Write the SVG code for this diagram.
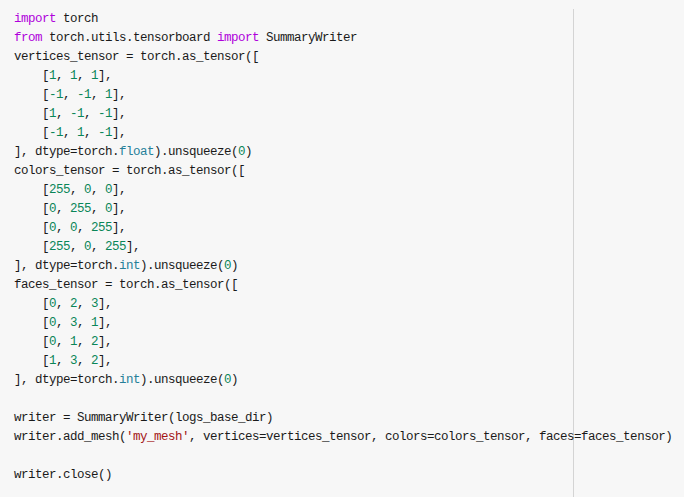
<svg xmlns="http://www.w3.org/2000/svg" width="684" height="497" viewBox="0 0 684 497">
<style>
text{font-family:"Liberation Mono","DejaVu Sans Mono",monospace;font-size:12.5px;letter-spacing:-0.5px;fill:#1a1a1a;white-space:pre}
.k{fill:#af00db}.n{fill:#098658}.t{fill:#267f99}.s{fill:#a31515}
</style>
<rect width="684" height="497" fill="#f7f7f7"/>
<line x1="573.5" y1="9" x2="573.5" y2="497" stroke="#d4d4d4" stroke-width="1"/>
<g id="code" xml:space="preserve">
<text x="14" y="22"><tspan class="k">import</tspan> torch</text>
<text x="14" y="41"><tspan class="k">from</tspan> torch.utils.tensorboard <tspan class="k">import</tspan> SummaryWriter</text>
<text x="14" y="60">vertices_tensor = torch.as_tensor([</text>
<text x="14" y="79">    [<tspan class="n">1</tspan>, <tspan class="n">1</tspan>, <tspan class="n">1</tspan>],</text>
<text x="14" y="98">    [<tspan class="n">-1</tspan>, <tspan class="n">-1</tspan>, <tspan class="n">1</tspan>],</text>
<text x="14" y="117">    [<tspan class="n">1</tspan>, <tspan class="n">-1</tspan>, <tspan class="n">-1</tspan>],</text>
<text x="14" y="136">    [<tspan class="n">-1</tspan>, <tspan class="n">1</tspan>, <tspan class="n">-1</tspan>],</text>
<text x="14" y="155">], dtype=torch.<tspan class="t">float</tspan>).unsqueeze(<tspan class="n">0</tspan>)</text>
<text x="14" y="174">colors_tensor = torch.as_tensor([</text>
<text x="14" y="193">    [<tspan class="n">255</tspan>, <tspan class="n">0</tspan>, <tspan class="n">0</tspan>],</text>
<text x="14" y="212">    [<tspan class="n">0</tspan>, <tspan class="n">255</tspan>, <tspan class="n">0</tspan>],</text>
<text x="14" y="231">    [<tspan class="n">0</tspan>, <tspan class="n">0</tspan>, <tspan class="n">255</tspan>],</text>
<text x="14" y="250">    [<tspan class="n">255</tspan>, <tspan class="n">0</tspan>, <tspan class="n">255</tspan>],</text>
<text x="14" y="269">], dtype=torch.<tspan class="t">int</tspan>).unsqueeze(<tspan class="n">0</tspan>)</text>
<text x="14" y="288">faces_tensor = torch.as_tensor([</text>
<text x="14" y="307">    [<tspan class="n">0</tspan>, <tspan class="n">2</tspan>, <tspan class="n">3</tspan>],</text>
<text x="14" y="326">    [<tspan class="n">0</tspan>, <tspan class="n">3</tspan>, <tspan class="n">1</tspan>],</text>
<text x="14" y="345">    [<tspan class="n">0</tspan>, <tspan class="n">1</tspan>, <tspan class="n">2</tspan>],</text>
<text x="14" y="364">    [<tspan class="n">1</tspan>, <tspan class="n">3</tspan>, <tspan class="n">2</tspan>],</text>
<text x="14" y="383">], dtype=torch.<tspan class="t">int</tspan>).unsqueeze(<tspan class="n">0</tspan>)</text>
<text x="14" y="421">writer = SummaryWriter(logs_base_dir)</text>
<text x="14" y="440">writer.add_mesh(<tspan class="s">'my_mesh'</tspan>, vertices=vertices_tensor, colors=colors_tensor, faces=faces_tensor)</text>
<text x="14" y="478">writer.close()</text>
</g>
</svg>
